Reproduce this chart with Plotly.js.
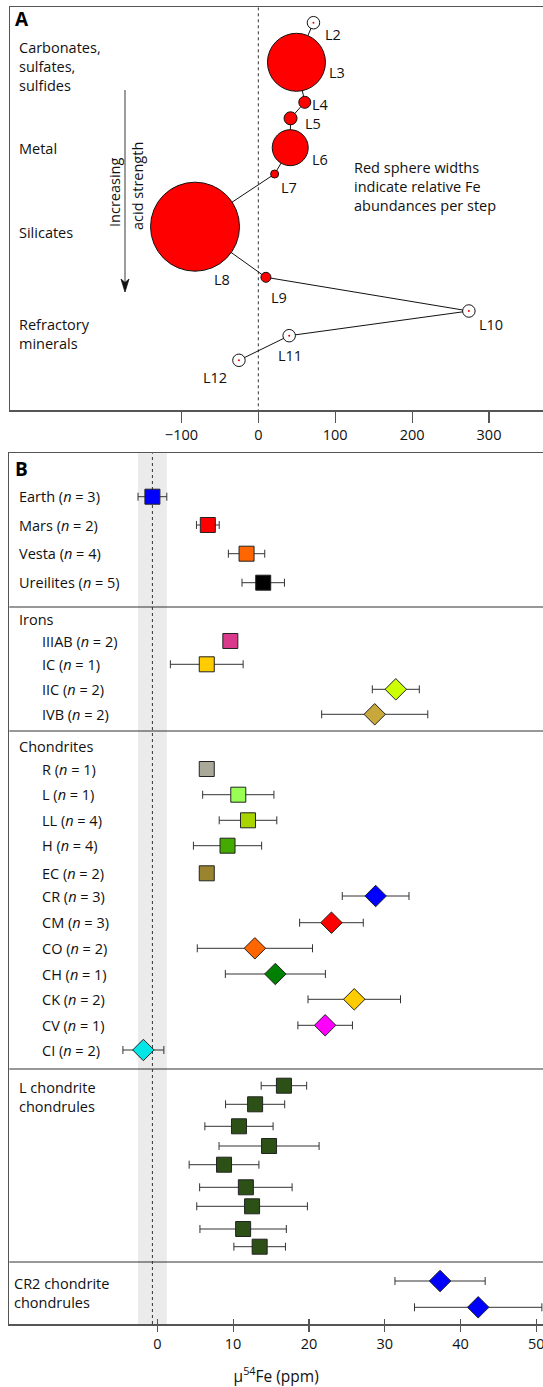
<!DOCTYPE html>
<html>
<head>
<meta charset="utf-8">
<script src="https://cdn.plot.ly/plotly-3.0.1.min.js"></script>
<style>html,body{margin:0;padding:0;background:#fff;}#chart{width:543px;height:1387px;}</style>
</head>
<body>
<div id="chart"></div>
<script>
// ---------------- Panel A data: leaching steps ----------------
const stepLabels = ['L2','L3','L4','L5','L6','L7','L8','L9','L10','L11','L12'];
const stepMu54   = [71.7, 49.6, 60.4, 41.9, 41.5, 21.2, -82.3, 9.9, 273.8, 40.1, -25.2];
// relative Fe abundance (sphere width); 0 = negligible (open circle)
const stepFeWidth = [0, 58, 12, 13, 36, 8, 89, 10, 0, 0, 0];
const mineralGroups = ['Carbonates,<br>sulfates,<br>sulfides', 'Metal', 'Silicates', 'Refractory<br>minerals'];

// ---------------- Panel B data ----------------
const bulkNames = ['Earth (<i>n</i> = 3)', 'Mars (<i>n</i> = 2)', 'Vesta (<i>n</i> = 4)', 'Ureilites (<i>n</i> = 5)'];
const bulkMu  = [-0.65, 6.66, 11.77, 13.97];
const bulkErr = [1.9, 1.5, 2.4, 2.8];
const bulkColors = ['#0000ff', '#ff0000', '#ff6600', '#000000'];

const ironNames = ['IIIAB (<i>n</i> = 2)', 'IC (<i>n</i> = 1)', 'IIC (<i>n</i> = 2)', 'IVB (<i>n</i> = 2)'];
const ironMu  = [9.63, 6.52, 31.46, 28.68];
const ironErr = [0, 4.8, 3.1, 7.0];
const ironColors = ['#d93a8c', '#ffcc00', '#ccff00', '#c8a83a'];
const ironSymbols = ['square', 'square', 'diamond', 'diamond'];

const chonNames = ['R (<i>n</i> = 1)', 'L (<i>n</i> = 1)', 'LL (<i>n</i> = 4)', 'H (<i>n</i> = 4)', 'EC (<i>n</i> = 2)',
  'CR (<i>n</i> = 3)', 'CM (<i>n</i> = 3)', 'CO (<i>n</i> = 2)', 'CH (<i>n</i> = 1)', 'CK (<i>n</i> = 2)', 'CV (<i>n</i> = 1)', 'CI (<i>n</i> = 2)'];
const chonMu  = [6.52, 10.68, 11.96, 9.26, 6.52, 28.8, 22.97, 12.87, 15.57, 25.98, 22.14, -1.84];
const chonErr = [0, 4.7, 3.8, 4.5, 0, 4.4, 4.2, 7.6, 6.6, 6.1, 3.6, 2.7];
const chonColors = ['#aaa898', '#99ff55', '#aad400', '#44aa00', '#9a8430',
  '#0000ff', '#ff0000', '#ff6600', '#008000', '#ffcc00', '#ff00ff', '#00e5e5'];
const chonSymbols = ['square','square','square','square','square',
  'diamond','diamond','diamond','diamond','diamond','diamond','diamond'];

const lchondMu  = [16.7, 12.9, 10.77, 14.74, 8.8, 11.68, 12.5, 11.32, 13.5];
const lchondErr = [3.0, 3.9, 4.5, 6.6, 4.6, 6.1, 7.3, 5.7, 3.4];
const cr2Mu  = [37.3, 42.33];
const cr2Err = [5.95, 8.4];

const earthMean = -0.65, earthErr = 1.9;
const xTicksA = [-100, 0, 100, 200, 300];
const xTicksB = [0, 10, 20, 30, 40, 50];

// ---------------- layout helpers (positions, in pixel-like units) ----------------
const W = 543, H = 1387;
const px = v => v / W;
const stepPos = [22.7, 62.3, 102.3, 118.3, 147.7, 174, 226.7, 277.3, 311, 335.7, 360.3];
const labelOff = [[20,12],[41,10],[16,2],[22,5],[30,12],[14,13],[27,53],[13,20],[22,13],[1,20],[-24,17]];
const groupPosA = [[45,69,88], [148], [232], [323,344]];
const bulkRows = [496.7, 525, 553.7, 582.7];
const ironRows = [641, 664.3, 689.3, 714.3];
const chonRows = [769, 794.7, 820.3, 845.7, 873.3, 896, 922.7, 948.3, 974, 999.3, 1025.3, 1050];
const lchondRows = [1085.7, 1104.3, 1126.3, 1146, 1164.7, 1187.3, 1206.3, 1229, 1246.7];
const cr2Rows = [1281, 1307.3];
const separators = [607, 731, 1069, 1262];

const FONT = 'Open Sans, Noto Sans, sans-serif';
const TXT = '#111';
const redIdx = stepFeWidth.map((w,i)=>w>0?i:-1).filter(i=>i>=0);
const openIdx = stepFeWidth.map((w,i)=>w===0?i:-1).filter(i=>i>=0);

const traces = [];
// connecting path
traces.push({x: stepMu54, y: stepPos, xaxis:'x', yaxis:'y', mode:'lines', type:'scatter',
  line:{color:'#111', width:1}, hoverinfo:'skip', showlegend:false});
// red spheres
traces.push({x: redIdx.map(i=>stepMu54[i]), y: redIdx.map(i=>stepPos[i]), xaxis:'x', yaxis:'y',
  mode:'markers', type:'scatter', showlegend:false,
  marker:{symbol:'circle', size: redIdx.map(i=>stepFeWidth[i]), color:'#ff0000', line:{color:'#111', width:1}, opacity:1}});
// open circles
traces.push({x: openIdx.map(i=>stepMu54[i]), y: openIdx.map(i=>stepPos[i]), xaxis:'x', yaxis:'y',
  mode:'markers', type:'scatter', showlegend:false,
  marker:{symbol:'circle', size: 12.5, color:'#ffffff', line:{color:'#111', width:1}, opacity:1}});
traces.push({x: openIdx.map(i=>stepMu54[i]), y: openIdx.map(i=>stepPos[i]), xaxis:'x', yaxis:'y',
  mode:'markers', type:'scatter', showlegend:false,
  marker:{symbol:'circle', size: 2, color:'#ff0000', line:{width:0}, opacity:1}});

function groupTrace(mu, err, rows, colors, symbols) {
  return {x: mu, y: rows, xaxis:'x2', yaxis:'y2', mode:'markers', type:'scatter', showlegend:false,
    error_x:{type:'data', array: err, visible:true, color:'#333', thickness:1, width:4},
    marker:{symbol: symbols, color: colors, size: symbols.map(s => s==='diamond'?16.5:15), opacity:1,
      line:{color:'#222', width:1}}};
}
traces.push(groupTrace(bulkMu, bulkErr, bulkRows, bulkColors, bulkMu.map(()=>'square')));
traces.push(groupTrace(ironMu, ironErr, ironRows, ironColors, ironSymbols));
traces.push(groupTrace(chonMu, chonErr, chonRows, chonColors, chonSymbols));
traces.push(groupTrace(lchondMu, lchondErr, lchondRows, lchondMu.map(()=>'#2d5016'), lchondMu.map(()=>'square')));
traces.push(groupTrace(cr2Mu, cr2Err, cr2Rows, cr2Mu.map(()=>'#0000ff'), cr2Mu.map(()=>'diamond')));

const annotations = [];
const addText = (text, x, yref, y, opts={}) => annotations.push(Object.assign({
  text, x, y, xref:'paper', yref, showarrow:false, xanchor:'left', yanchor:'middle', align:'left',
  font:{family:FONT, size:14.5, color:TXT}}, opts));

// Panel A texts
addText('<b>A</b>', px(13), 'y', 19, {font:{family:FONT, size:19, color:'#000'}});
mineralGroups.forEach((g, i) => {
  const p = groupPosA[i];
  addText(g, px(17), 'y', (p[0] + p[p.length-1]) / 2, {font:{family:FONT, size:14.5, color:TXT}});
});
stepLabels.forEach((l, i) => annotations.push({text:l, x: stepMu54[i], y: stepPos[i], xref:'x', yref:'y',
  showarrow:false, xanchor:'center', yanchor:'middle', xshift: labelOff[i][0], yshift: -labelOff[i][1],
  font:{family:FONT, size:14.5, color:TXT}}));
addText('Red sphere widths<br>indicate relative Fe<br>abundances per step', px(352), 'y', 186);
annotations.push({text:'Increasing', x: px(114), y: 193, xref:'paper', yref:'y', showarrow:false, textangle:-90,
  xanchor:'center', yanchor:'middle', font:{family:FONT, size:14.5, color:TXT}});
annotations.push({text:'acid strength', x: px(137), y: 186, xref:'paper', yref:'y', showarrow:false, textangle:-90,
  xanchor:'center', yanchor:'middle', font:{family:FONT, size:14.5, color:TXT}});

// Panel B texts
addText('<b>B</b>', px(13), 'y2', 469, {font:{family:FONT, size:19, color:'#000'}});
bulkNames.forEach((n, i) => addText(n, px(17), 'y2', bulkRows[i]));
addText('Irons', px(17), 'y2', 619);
ironNames.forEach((n, i) => addText(n, px(40), 'y2', ironRows[i]));
addText('Chondrites', px(17), 'y2', 746);
chonNames.forEach((n, i) => addText(n, px(40), 'y2', chonRows[i]));
addText('L chondrite<br>chondrules', px(17), 'y2', 1097);
addText('CR2 chondrite<br>chondrules', px(12), 'y2', 1293);

const shapes = [];
// Panel A zero line
shapes.push({type:'line', xref:'x', yref:'y', x0:0, x1:0, y0:7.3, y1:410, line:{color:'#333', width:1, dash:'dot'}, layer:'below'});
// arrow shaft and head
shapes.push({type:'line', xref:'paper', yref:'y', x0:px(125), x1:px(125), y0:90, y1:284, line:{color:'#666', width:1.3}});
shapes.push({type:'path', xref:'paper', yref:'y',
  path:`M ${px(125)},292 L ${px(121)},279 L ${px(125)},282.5 L ${px(129)},279 Z`,
  fillcolor:'#111', line:{color:'#111', width:0.8}});
// Panel B Earth band and mean line
shapes.push({type:'rect', xref:'x2', yref:'paper', x0:earthMean-earthErr, x1:earthMean+earthErr,
  y0:1-1324/H, y1:1-453.3/H, fillcolor:'#ebebeb', line:{width:0}, layer:'below'});
shapes.push({type:'line', xref:'x2', yref:'paper', x0:earthMean, x1:earthMean,
  y0:1-1324/H, y1:1-453.3/H, line:{color:'#333', width:1, dash:'dot'}, layer:'below'});
separators.forEach(s => shapes.push({type:'line', xref:'paper', yref:'y2', x0:px(9.3), x1:1, y0:s, y1:s,
  line:{color:'#333', width:1.2}}));

const axLine = {showline:true, linecolor:'#555', linewidth:1.5, showgrid:false, zeroline:false};
const layout = {
  width: W, height: H, margin:{l:0, r:0, t:0, b:0, pad:0}, paper_bgcolor:'#fff', plot_bgcolor:'rgba(0,0,0,0)',
  showlegend:false, font:{family:FONT, color:TXT},
  xaxis: Object.assign({}, axLine, {domain:[px(10.4), 1], range:[-322.4, 370.2], anchor:'y', mirror:true,
    tickvals: xTicksA, ticks:'outside', ticklen:11, tickwidth:1.2, tickcolor:'#555', ticklabeloverflow:'allow',
    tickfont:{family:FONT, size:14.5, color:TXT}}),
  yaxis: Object.assign({}, axLine, {domain:[1-410/H, 1-7.3/H], range:[410, 7.3], anchor:'x',
    showticklabels:false, ticks:''}),
  xaxis2: Object.assign({}, axLine, {domain:[px(9.3), 1], range:[-19.53, 50.88], anchor:'y2', mirror:true,
    tickvals: xTicksB, ticks:'outside', ticklen:6, tickwidth:1.2, tickcolor:'#555', ticklabeloverflow:'allow',
    tickfont:{family:FONT, size:14.5, color:TXT},
    title:{text:'μ<sup>54</sup>Fe (ppm)', font:{family:FONT, size:15.5, color:TXT}, standoff:20}}),
  xaxis3: {overlaying:'x2', anchor:'y2', range:[-19.53, 50.88], tickvals: xTicksB, ticks:'inside', ticklen:5,
    tickwidth:1.2, tickcolor:'#555', showticklabels:false, showgrid:false, zeroline:false, showline:false},
  yaxis2: Object.assign({}, axLine, {domain:[1-1324/H, 1-453.3/H], range:[1324, 453.3], anchor:'x2',
    showticklabels:false, ticks:''}),
  annotations, shapes
};
traces.push({x:[0], y:[0], xaxis:'x3', yaxis:'y2', mode:'markers', marker:{opacity:0}, hoverinfo:'skip', showlegend:false});
Plotly.newPlot('chart', traces, layout, {staticPlot:true, displayModeBar:false});
</script>
</body>
</html>
